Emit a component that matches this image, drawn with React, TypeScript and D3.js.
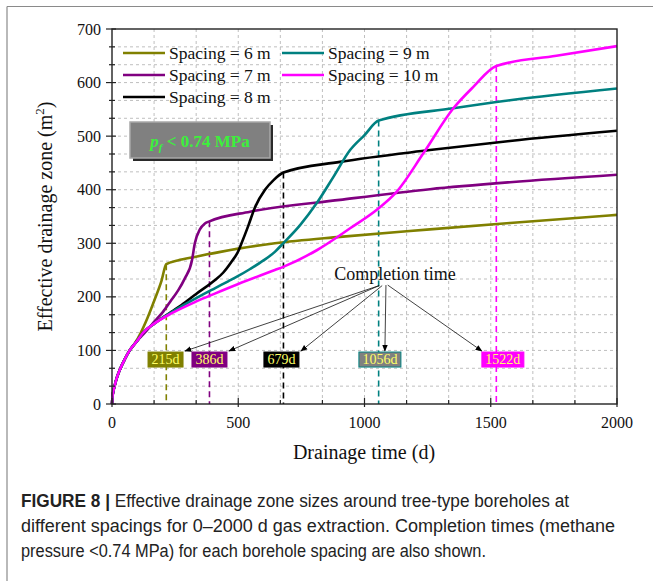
import React from "react";
import * as d3 from "d3";

// ---------- data ----------
const seriesNames = ["Spacing = 6 m", "Spacing = 7 m", "Spacing = 8 m", "Spacing = 9 m", "Spacing = 10 m"];
const seriesColors = ["#808000", "#800080", "#000000", "#008080", "#ff00ff"];

const days6 = [0, 2, 6, 11, 20, 32, 50, 70, 90, 114, 140, 169, 196, 215, 260, 332, 500, 645, 903, 1259, 1576, 2000];
const zone6 = [0, 14, 25, 35, 50, 65, 83, 100, 113, 133, 160, 195, 230, 261, 268, 275, 290, 300, 312, 326, 338, 353];

const days7 = [0, 2, 6, 11, 20, 32, 50, 70, 100, 130, 170, 202, 235, 262, 288, 317, 328, 348, 368, 386, 547, 903, 1259, 1576, 2000];
const zone7 = [0, 14, 25, 35, 50, 65, 83, 100, 118, 133, 155, 172, 194, 212, 234, 269, 300, 326, 337, 341, 359, 381, 401, 414, 428];

const days8 = [0, 2, 6, 11, 20, 32, 50, 70, 100, 123, 167, 235, 290, 332, 407, 440, 474, 500, 513, 540, 566, 606, 640, 679, 903, 1259, 1576, 2000];
const zone8 = [0, 14, 25, 35, 50, 65, 83, 100, 118, 133, 150, 172, 190, 205, 231, 245, 266, 285, 300, 333, 367, 400, 418, 432, 452, 474, 491, 510];

const days9 = [0, 2, 6, 11, 20, 32, 50, 70, 100, 123, 167, 235, 335, 407, 460, 500, 547, 600, 645, 678, 745, 811, 877, 943, 1000, 1056, 1352, 1576, 2000];
const zone9 = [0, 14, 25, 35, 50, 65, 83, 100, 118, 133, 150, 171, 198, 216, 229, 239, 252, 268, 284, 300, 334, 375, 424, 474, 502, 529, 552, 567, 589];

const days10 = [0, 2, 6, 11, 20, 32, 50, 70, 100, 123, 167, 235, 332, 407, 500, 645, 678, 811, 943, 1055, 1127, 1233, 1352, 1431, 1522, 1760, 2000];
const zone10 = [0, 14, 25, 35, 50, 65, 83, 100, 118, 133, 150, 169, 191, 206, 224, 250, 256, 287, 328, 365, 396, 468, 552, 592, 631, 650, 668];

const seriesDays = [days6, days7, days8, days9, days10];
const seriesZone = [zone6, zone7, zone8, zone9, zone10];

const completionDays = [215, 386, 679, 1056, 1522];
const completionZone = [261, 341, 432, 529, 631];
const completionLabels = ["215d", "386d", "679d", "1056d", "1522d"];
const labelCenterDays = [212, 386, 671, 1061, 1548];
const labelBoxFill = ["#808000", "#800080", "#000000", "#808080", "#ff00ff"];
const labelBoxStroke = ["#808000", "#800080", "#000000", "#008080", "#ff00ff"];

const xTicks = [0, 500, 1000, 1500, 2000];
const yTicks = [0, 100, 200, 300, 400, 500, 600, 700];

const captionLines = [
  "Effective drainage zone sizes around tree-type boreholes at",
  "different spacings for 0–2000 d gas extraction. Completion times (methane",
  "pressure <0.74 MPa) for each borehole spacing are also shown.",
];

// ---------- layout ----------
const W = 653;
const H = 581;
const PL = 112, PR = 617, PT = 29, PB = 404;
const SERIF = "'Liberation Serif', 'Times New Roman', serif";
const SANS = "'Liberation Sans', Arial, sans-serif";

export default function App() {
  const x = d3.scaleLinear().domain([0, 2000]).range([PL, PR]);
  const y = d3.scaleLinear().domain([0, 700]).range([PB, PT]);

  const xGrid = d3.range(0, 2000 + 1e-6, 2000 / 12);
  const yGrid = d3.range(0, 700 + 1e-6, 100 / 3);

  const line = d3
    .line<[number, number]>()
    .x((d) => x(d[0]))
    .y((d) => y(d[1]))
    .curve(d3.curveMonotoneX);

  const labelV = 83;
  const boxH = 15;
  const arrowFrom: [number, number][] = [
    [1058, 221],
    [1058, 221],
    [1070, 221],
    [1085, 222],
    [1092, 222],
  ];

  const legendPos = [
    [0, 0],
    [0, 1],
    [0, 2],
    [1, 0],
    [1, 1],
  ];
  const legendColX = [123, 282];
  const legendRowY = [53, 75, 97];

  return (
    <svg
      width={W}
      height={H}
      viewBox={`0 0 ${W} ${H}`}
      style={{ position: "absolute", left: 0, top: 0, background: "#fff" }}
    >
      <defs>
        <marker id="arr" viewBox="0 0 10 10" refX="9" refY="5" markerWidth="7" markerHeight="7" orient="auto-start-reverse" markerUnits="userSpaceOnUse">
          <path d="M0,1 L10,5 L0,9 z" fill="#000" />
        </marker>
      </defs>

      {/* card border */}
      <line x1={7} y1={6.5} x2={W} y2={6.5} stroke="#8a8a8a" strokeWidth={1.2} />
      <line x1={7} y1={6.5} x2={7} y2={H} stroke="#8a8a8a" strokeWidth={1.2} />

      {/* grid */}
      {xGrid.slice(1, -1).map((g, i) => (
        <line key={"gx" + i} x1={x(g)} x2={x(g)} y1={PT} y2={PB} stroke="#b8b8b8" strokeWidth={0.9} strokeDasharray="3,3" />
      ))}
      {yGrid.slice(1, -1).map((g, i) => (
        <line key={"gy" + i} x1={PL} x2={PR} y1={y(g)} y2={y(g)} stroke="#b8b8b8" strokeWidth={0.9} strokeDasharray="3,3" />
      ))}

      {/* completion dashed lines */}
      {completionDays.map((d, i) => (
        <line
          key={"cd" + i}
          x1={x(d)}
          x2={x(d)}
          y1={y(completionZone[i])}
          y2={y(0)}
          stroke={seriesColors[i]}
          strokeWidth={1.6}
          strokeDasharray="6,4"
        />
      ))}

      {/* series */}
      {seriesDays.map((ds, i) => (
        <path
          key={"s" + i}
          d={line(ds.map((d, j) => [d, seriesZone[i][j]]) as [number, number][]) || ""}
          fill="none"
          stroke={seriesColors[i]}
          strokeWidth={2.6}
          strokeLinejoin="round"
        />
      ))}

      {/* frame */}
      <rect x={PL} y={PT} width={PR - PL} height={PB - PT} fill="none" stroke="#222" strokeWidth={1.4} />

      {/* ticks */}
      {xGrid.map((g, i) => {
        const major = xTicks.some((t) => Math.abs(t - g) < 1e-6);
        return <line key={"tx" + i} x1={x(g)} x2={x(g)} y1={PB - (major ? 6 : 4)} y2={PB + (major ? 3 : 0)} stroke="#222" strokeWidth={1.2} />;
      })}
      {yGrid.map((g, i) => {
        const major = yTicks.some((t) => Math.abs(t - g) < 1e-6);
        return <line key={"ty" + i} x1={PL - (major ? 6 : 3)} x2={PL + (major ? 4 : 3)} y1={y(g)} y2={y(g)} stroke="#222" strokeWidth={1.2} />;
      })}

      {/* tick labels */}
      {xTicks.map((t) => (
        <text key={"xl" + t} x={x(t)} y={428} textAnchor="middle" fontFamily={SERIF} fontSize={16} fill="#111">
          {t}
        </text>
      ))}
      {yTicks.map((t) => (
        <text key={"yl" + t} x={101} y={y(t) + 5.5} textAnchor="end" fontFamily={SERIF} fontSize={16} fill="#111">
          {t}
        </text>
      ))}

      {/* axis titles */}
      <text x={364} y={459} textAnchor="middle" fontFamily={SERIF} fontSize={20} fill="#111">
        Drainage time (d)
      </text>
      <text transform={`translate(52,${(PT + PB) / 2}) rotate(-90)`} textAnchor="middle" fontFamily={SERIF} fontSize={20} fill="#111">
        Effective drainage zone (m<tspan dy={-8} fontSize={13}>2</tspan>
        <tspan dy={8}>)</tspan>
      </text>

      {/* legend */}
      {seriesNames.map((n, i) => {
        const [c, r] = legendPos[i];
        const lx = legendColX[c];
        const ly = legendRowY[r];
        return (
          <g key={"lg" + i}>
            <line x1={lx} x2={lx + 42} y1={ly} y2={ly} stroke={seriesColors[i]} strokeWidth={2.6} />
            <text x={lx + 46} y={ly + 5.5} fontFamily={SERIF} fontSize={17.5} fill="#111">
              {n}
            </text>
          </g>
        );
      })}

      {/* pressure box */}
      <rect x={133} y={125} width={140} height={36} fill="#2a2a2a" />
      <rect x={130} y={122} width={140} height={36} fill="#808080" stroke="#a8a8a8" strokeWidth={1.5} />
      <text x={200} y={146.5} textAnchor="middle" fontFamily={SERIF} fontSize={17} fontWeight="bold" fill="#3cf03c">
        <tspan fontStyle="italic">p</tspan>
        <tspan fontStyle="italic" fontSize={11} dy={4}>f</tspan>
        <tspan dy={-4}> &lt; 0.74 MPa</tspan>
      </text>

      {/* completion annotation */}
      <text x={x(1121)} y={280} textAnchor="middle" fontFamily={SERIF} fontSize={18} fill="#111">
        Completion time
      </text>
      {completionLabels.map((lab, i) => {
        const cx = x(labelCenterDays[i]);
        const bw = lab.length * 7 + 7;
        const by = y(labelV) - boxH / 2;
        let tx = cx + bw / 2;
        if (i === 3) tx = cx + 5;
        if (i === 4) tx = cx - bw / 2;
        if (i < 3) tx = cx + bw / 2 + 2;
        return (
          <g key={"cl" + i}>
            <line
              x1={x(arrowFrom[i][0])}
              y1={y(arrowFrom[i][1])}
              x2={tx}
              y2={by - 1}
              stroke="#111"
              strokeWidth={0.8}
              markerEnd="url(#arr)"
            />
            <rect x={cx - bw / 2} y={by} width={bw} height={boxH} fill={labelBoxFill[i]} stroke={labelBoxStroke[i]} strokeWidth={1} />
            <text x={cx} y={by + 12} textAnchor="middle" fontFamily={SERIF} fontSize={14} fill="#ffff66">
              {lab}
            </text>
          </g>
        );
      })}

      {/* caption */}
      {captionLines.map((ln, i) => {
        const lens = [548, 594, 465];
        return (
          <text
            key={"cap" + i}
            x={21}
            y={507 + i * 25}
            fontFamily={SANS}
            fontSize={17.5}
            fill="#222"
            textLength={lens[i]}
            lengthAdjust="spacingAndGlyphs"
          >
            {i === 0 ? (
              <>
                <tspan fontWeight="bold">FIGURE 8 | </tspan>
                {ln}
              </>
            ) : (
              ln
            )}
          </text>
        );
      })}
    </svg>
  );
}
